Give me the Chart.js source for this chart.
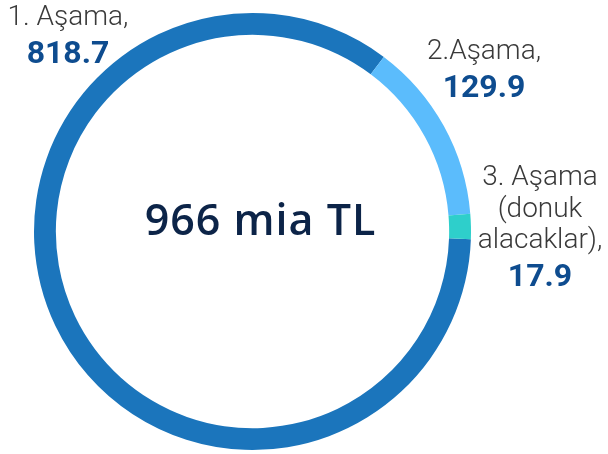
<!DOCTYPE html>
<html>
<head>
<meta charset="utf-8">
<script src="https://cdn.jsdelivr.net/npm/chart.js@4.4.1/dist/chart.umd.min.js"></script>
<style>
  html, body { margin: 0; padding: 0; background: #fff; }
  #wrap { width: 608px; height: 454px; position: relative; }
</style>
</head>
<body>
<div id="wrap"><canvas id="chart"></canvas></div>
<script>
const labels = ["1. Aşama", "2.Aşama", "3. Aşama (donuk alacaklar)"];
const values = [818.7, 129.9, 17.9];
const colors = ["#1B75BC", "#5BBCFC", "#2ECFCB"];
const centerText = "966 mia TL";

// label text lines per slice, drawn next to the ring
const labelLines = [
  ["1. Aşama,"],
  ["2.Aşama,"],
  ["3. Aşama", "(donuk", "alacaklar),"]
];

const calloutPlugin = {
  id: "callouts",
  afterDraw(chart) {
    const ctx = chart.ctx;
    const meta = chart.getDatasetMeta(0);
    const arc = meta.data[0];
    const cx = arc.x, cy = arc.y;

    ctx.save();
    ctx.textAlign = "center";
    ctx.textBaseline = "alphabetic";

    // center total
    ctx.fillStyle = "#0C2448";
    ctx.font = "600 43px 'Open Sans'";
    ctx.letterSpacing = "1px";
    ctx.fillText(centerText, cx + 8, cy + 3);
    ctx.letterSpacing = "0px";

    // anchors: x center, baseline of first line
    const anchors = [
      { x: 68, y: 25 },
      { x: 484, y: 59 },
      { x: 540, y: 185 }
    ];
    labelLines.forEach((lines, i) => {
      const a = anchors[i];
      ctx.fillStyle = "#3a3a3a";
      ctx.font = "300 28px Roboto";
      lines.forEach((t, j) => ctx.fillText(t, a.x, a.y + j * 31.5));
      ctx.fillStyle = "#0E4C8F";
      ctx.font = "bold 32px Roboto";
      ctx.fillText(values[i].toFixed(1), a.x, a.y + lines.length * 31.5 + 6);
    });
    ctx.restore();
  }
};

new Chart(document.getElementById("chart"), {
  type: "doughnut",
  data: {
    labels: labels,
    datasets: [{
      data: values,
      backgroundColor: colors,
      borderWidth: 0
    }]
  },
  options: {
    responsive: true,
    maintainAspectRatio: false,
    animation: false,
    rotation: 92,
    cutout: "90%",
    layout: { padding: { left: 34, top: 13, right: 137, bottom: 4 } },
    plugins: {
      legend: { display: false },
      tooltip: { enabled: false }
    }
  },
  plugins: [calloutPlugin]
});
</script>
</body>
</html>
